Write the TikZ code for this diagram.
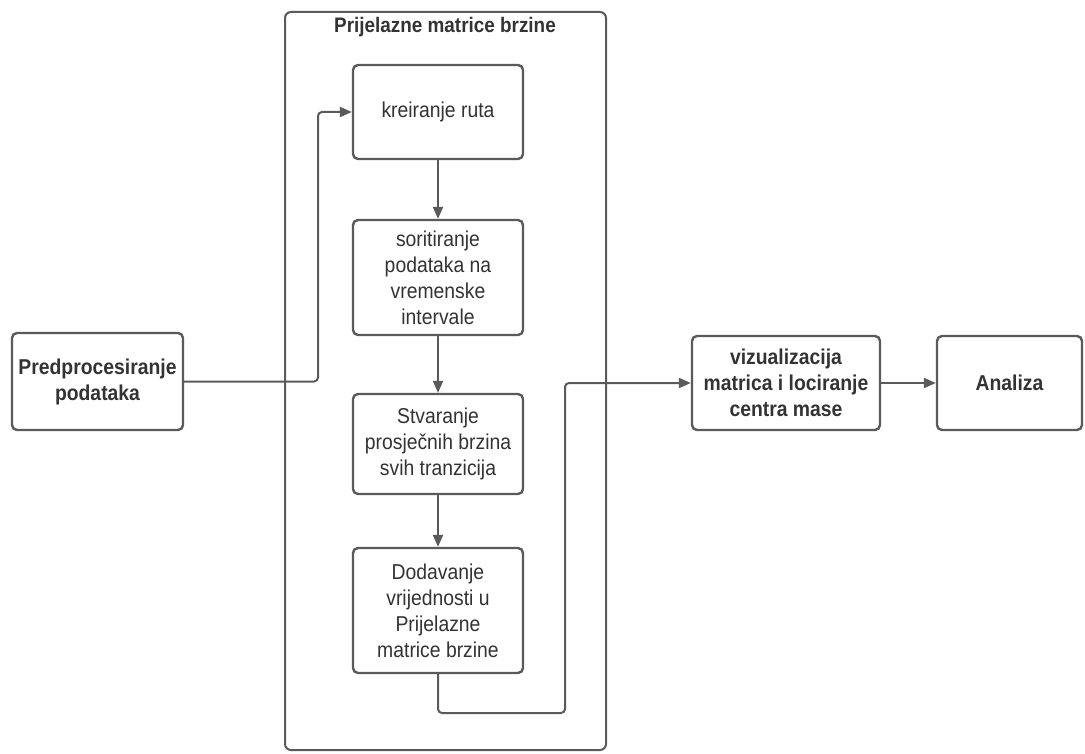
\documentclass[tikz,border=0pt]{standalone}
\usepackage{fontspec}
\setmainfont[FakeStretch=0.9]{Liberation Sans}
\usetikzlibrary{arrows.meta}
\definecolor{ln}{HTML}{5A5A5A}
\definecolor{tx}{HTML}{333333}
\tikzset{
  box/.style={draw=ln, line width=2.4pt, rounded corners=5pt, fill=white, align=center, text=tx, font=\fontsize{21.5}{26}\selectfont, inner sep=0pt},
  boldbox/.style={box, font=\fontsize{21.5}{26}\selectfont\bfseries},
  frame/.style={draw=ln, line width=2pt, rounded corners=6pt},
  conn/.style={draw=ln, line width=2pt, rounded corners=4pt, -{Triangle[length=12pt,width=10pt]}}
}
\begin{document}
\begin{tikzpicture}[x=1pt,y=-1pt]
\useasboundingbox (0,0) rectangle (1085,754);
\node[frame, minimum width=321pt, minimum height=738pt, inner sep=0pt] (cont) at (445.5,381) {};
\node[text=tx, font=\fontsize{21}{24}\selectfont\bfseries] (title) at (445,27) {Prijelazne matrice brzine};
\node[boldbox, minimum width=171pt, minimum height=97pt] (pre) at (97.5,381.5) {Predprocesiranje\\podataka};
\node[box, minimum width=170pt, minimum height=94pt] (b1) at (438,112) {kreiranje ruta};
\node[box, minimum width=170pt, minimum height=115pt] (b2) at (438,277.5) {soritiranje\\podataka na\\vremenske\\intervale};
\node[box, minimum width=170pt, minimum height=100pt] (b3) at (438,444) {Stvaranje\\prosječnih brzina\\svih tranzicija};
\node[box, minimum width=170pt, minimum height=125pt] (b4) at (438,610.5) {Dodavanje\\vrijednosti u\\Prijelazne\\matrice brzine};
\node[boldbox, minimum width=188pt, minimum height=94pt] (viz) at (786,383) {vizualizacija\\matrica i lociranje\\centra mase};
\node[boldbox, minimum width=145pt, minimum height=94pt] (ana) at (1009.5,383) {Analiza};
\coordinate (p1) at (318,381.5);
\coordinate (p2) at (318,112);
\coordinate (q1) at (438,713);
\coordinate (q2) at (565,713);
\coordinate (q3) at (565,383);
\draw[conn] (pre.east) -- (p1) -- (p2) -- (b1.west);
\draw[conn] (b1.south) -- (b2.north);
\draw[conn] (b2.south) -- (b3.north);
\draw[conn] (b3.south) -- (b4.north);
\draw[conn] (b4.south) -- (q1) -- (q2) -- (q3) -- (viz.west);
\draw[conn] (viz.east) -- (ana.west);
\end{tikzpicture}
\end{document}
